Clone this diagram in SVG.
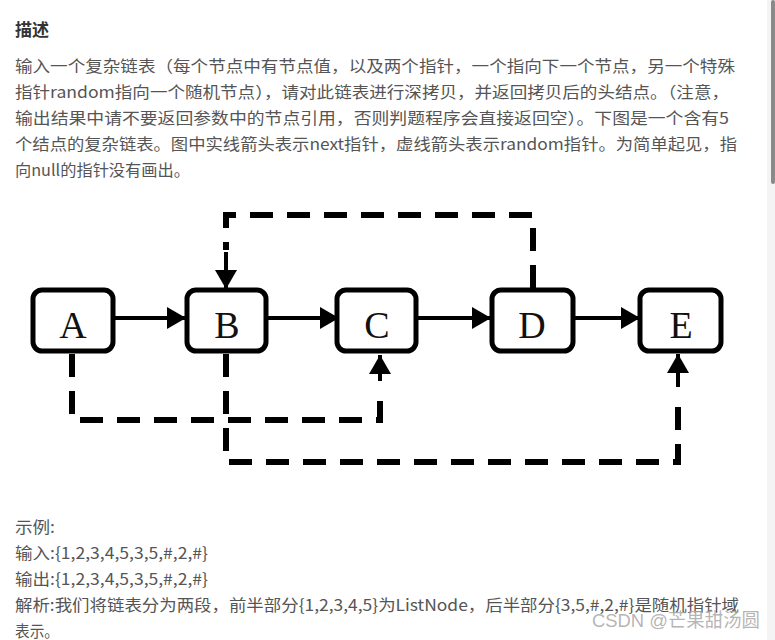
<svg xmlns="http://www.w3.org/2000/svg" width="775" height="640" viewBox="0 0 775 640">
  <defs>
    <style>
      .body { font-family: "Microsoft YaHei", "Noto Sans CJK SC", "Liberation Sans", sans-serif; font-size: 16px; fill: #555555; }
      .title { font-family: "Noto Sans CJK SC", "Liberation Sans", sans-serif; font-size: 17px; font-weight: bold; fill: #333333; }
      .box { fill: #ffffff; stroke: #000000; stroke-width: 5; }
      .lbl { font-family: "Liberation Serif", "Times New Roman", serif; font-size: 38px; fill: #111111; text-anchor: middle; }
      .solid { stroke: #000000; stroke-width: 4; fill: none; }
      .dash { stroke: #000000; stroke-width: 6; fill: none; stroke-dasharray: 23 14; }
      .wm { font-family: "Liberation Sans", "Noto Sans CJK SC", sans-serif; font-size: 19px; fill: #a8a8a8; fill-opacity: 0.85; }
    </style>
    <marker id="ah" markerUnits="userSpaceOnUse" markerWidth="20" markerHeight="22" refX="19" refY="11" orient="auto">
      <path d="M0,0 L19,11 L0,22 z" fill="#000000"/>
    </marker>
  </defs>

  <rect x="0" y="0" width="775" height="640" fill="#ffffff"/>
  <rect x="767" y="0" width="8" height="640" fill="#f4f4f4"/>
  <rect x="771" y="0" width="4" height="184" rx="2" fill="#8a8a8a"/>

  <text class="title" x="15" y="36">描述</text>

  <text class="body" x="15" y="72" textLength="720" lengthAdjust="spacingAndGlyphs">输入一个复杂链表（每个节点中有节点值，以及两个指针，一个指向下一个节点，另一个特殊</text>
  <text class="body" x="15" y="98" textLength="714" lengthAdjust="spacingAndGlyphs">指针random指向一个随机节点），请对此链表进行深拷贝，并返回拷贝后的头结点。（注意，</text>
  <text class="body" x="15" y="124" textLength="714" lengthAdjust="spacingAndGlyphs">输出结果中请不要返回参数中的节点引用，否则判题程序会直接返回空）。下图是一个含有5</text>
  <text class="body" x="15" y="150" textLength="722" lengthAdjust="spacingAndGlyphs">个结点的复杂链表。图中实线箭头表示next指针，虚线箭头表示random指针。为简单起见，指</text>
  <text class="body" x="15" y="176" textLength="175" lengthAdjust="spacingAndGlyphs">向null的指针没有画出。</text>

  <g id="connectors">
    <line class="solid" x1="115" y1="318" x2="186" y2="318" marker-end="url(#ah)"/>
    <line class="solid" x1="268" y1="318" x2="339" y2="318" marker-end="url(#ah)"/>
    <line class="solid" x1="418" y1="318" x2="491" y2="318" marker-end="url(#ah)"/>
    <line class="solid" x1="575" y1="318" x2="640" y2="318" marker-end="url(#ah)"/>

    <path class="dash" d="M533,288 V215 H226 V250" stroke-dashoffset="37"/>
    <line class="solid" x1="226" y1="252" x2="226" y2="289" stroke-width="5" marker-end="url(#ah)"/>

    <path class="dash" d="M72,354 V420 H380 V397"/>
    <line class="solid" x1="380" y1="381" x2="380" y2="355" stroke-width="5" marker-end="url(#ah)"/>

    <path class="dash" d="M226,354 V462 H678 V403"/>
    <line class="solid" x1="678" y1="387" x2="678" y2="354" stroke-width="5" marker-end="url(#ah)"/>
  </g>

  <g id="node-A">
    <rect class="box" x="33" y="290" width="80" height="61" rx="9"/>
    <text class="lbl" x="73" y="338">A</text>
  </g>
  <g id="node-B">
    <rect class="box" x="187" y="290" width="79" height="61" rx="9"/>
    <text class="lbl" x="227" y="338">B</text>
  </g>
  <g id="node-C">
    <rect class="box" x="337" y="290" width="79" height="61" rx="9"/>
    <text class="lbl" x="377" y="338">C</text>
  </g>
  <g id="node-D">
    <rect class="box" x="492" y="290" width="81" height="61" rx="9"/>
    <text class="lbl" x="532" y="338">D</text>
  </g>
  <g id="node-E">
    <rect class="box" x="640" y="290" width="81" height="61" rx="9"/>
    <text class="lbl" x="681" y="338">E</text>
  </g>

  <text class="body" x="15" y="533" textLength="40" lengthAdjust="spacingAndGlyphs">示例:</text>
  <text class="body" x="15" y="559" textLength="193" lengthAdjust="spacingAndGlyphs">输入:{1,2,3,4,5,3,5,#,2,#}</text>
  <text class="body" x="15" y="585" textLength="193" lengthAdjust="spacingAndGlyphs">输出:{1,2,3,4,5,3,5,#,2,#}</text>
  <text class="body" x="15" y="611" textLength="724" lengthAdjust="spacingAndGlyphs">解析:我们将链表分为两段，前半部分{1,2,3,4,5}为ListNode，后半部分{3,5,#,2,#}是随机指针域</text>
  <text class="body" x="15" y="637" textLength="44" lengthAdjust="spacingAndGlyphs">表示。</text>

  <text class="wm" x="592" y="627" textLength="168" lengthAdjust="spacingAndGlyphs">CSDN @芒果甜汤圆</text>
</svg>
